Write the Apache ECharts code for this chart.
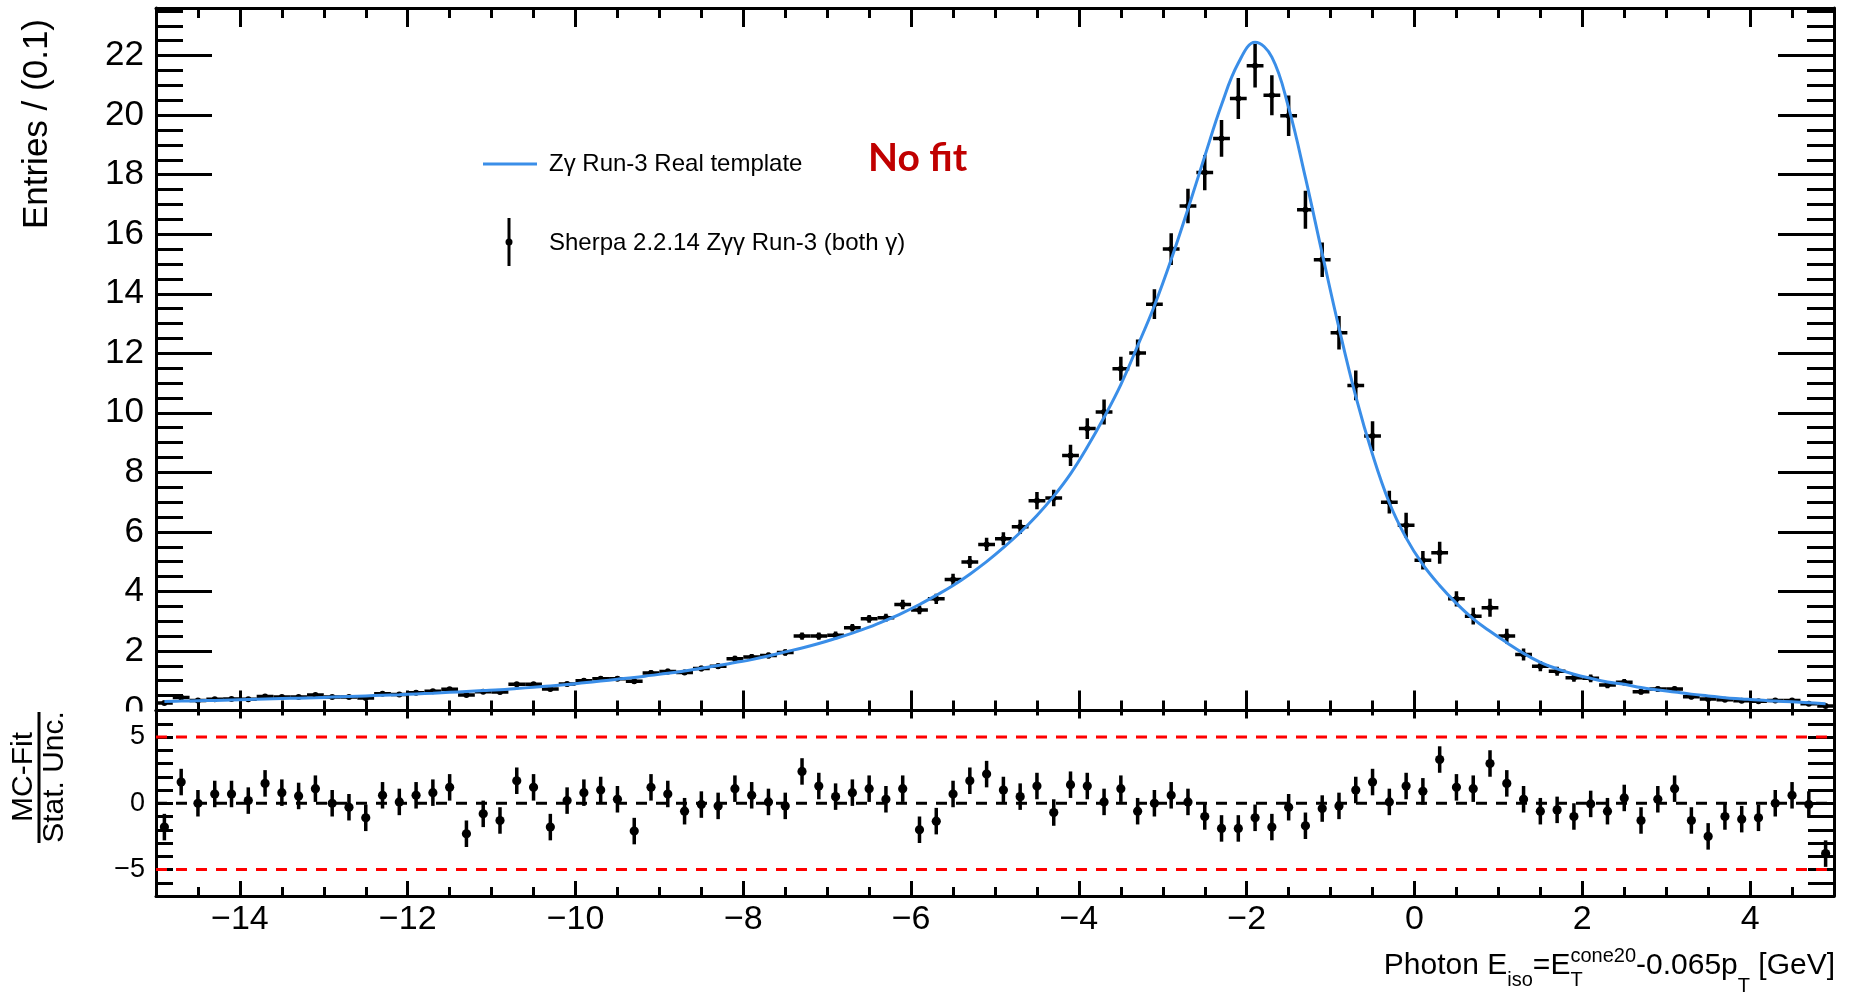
<!DOCTYPE html>
<html>
<head>
<meta charset="utf-8">
<script src="https://cdn.jsdelivr.net/npm/echarts@6/dist/echarts.min.js"></script>
<style>
  html, body { margin: 0; padding: 0; background: #fff; }
  #chart { width: 1849px; height: 995px; }
</style>
</head>
<body>
<div id="chart"></div>
<script>
// Photon isolation distribution: Sherpa MC histogram vs. real-photon template,
// with the pull (MC - template) / stat. unc. in the lower pad.

const xLow = -15;
const xHigh = 5;
const binWidth = 0.2;
const yTopMax = 23.6;
const pullMin = -7;
const pullMax = 7;

// Sherpa 2.2.14 Z gamma gamma, entries per bin (100 bins from -15 to 5)
const entries = [
  0.25, 0.44, 0.34, 0.38, 0.39, 0.38, 0.47, 0.45, 0.45, 0.52,
  0.45, 0.45, 0.42, 0.56, 0.54, 0.60, 0.65, 0.71, 0.52, 0.63,
  0.62, 0.88, 0.88, 0.72, 0.89, 1.00, 1.07, 1.07, 0.98, 1.26,
  1.31, 1.28, 1.41, 1.49, 1.74, 1.80, 1.85, 1.95, 2.50, 2.50,
  2.53, 2.78, 3.08, 3.12, 3.56, 3.38, 3.75, 4.40, 4.99, 5.58,
  5.77, 6.17, 7.05, 7.14, 8.57, 9.47, 10.03, 11.48, 12.01, 13.65,
  15.50, 16.95, 18.07, 19.22, 20.56, 21.66, 20.67, 19.98, 16.82, 15.14,
  12.69, 10.92, 9.22, 7.00, 6.22, 5.05, 5.30, 3.75, 3.17, 3.45,
  2.50, 1.88, 1.49, 1.32, 1.10, 1.08, 0.86, 0.95, 0.63, 0.72,
  0.72, 0.46, 0.39, 0.36, 0.33, 0.31, 0.34, 0.34, 0.23, 0.15
];

// statistical uncertainty of each bin
const entryErrors = [
  0.05, 0.06, 0.05, 0.05, 0.05, 0.05, 0.06, 0.06, 0.06, 0.06,
  0.06, 0.06, 0.06, 0.06, 0.06, 0.07, 0.07, 0.07, 0.07, 0.07,
  0.07, 0.08, 0.08, 0.07, 0.08, 0.08, 0.08, 0.08, 0.08, 0.09,
  0.09, 0.09, 0.09, 0.10, 0.10, 0.10, 0.10, 0.11, 0.12, 0.12,
  0.12, 0.13, 0.13, 0.13, 0.16, 0.15, 0.17, 0.19, 0.20, 0.22,
  0.22, 0.24, 0.29, 0.28, 0.36, 0.35, 0.42, 0.40, 0.45, 0.50,
  0.53, 0.58, 0.59, 0.62, 0.69, 0.73, 0.67, 0.68, 0.64, 0.58,
  0.56, 0.50, 0.50, 0.38, 0.42, 0.31, 0.37, 0.26, 0.28, 0.30,
  0.25, 0.20, 0.17, 0.15, 0.13, 0.13, 0.11, 0.11, 0.09, 0.09,
  0.09, 0.08, 0.07, 0.07, 0.07, 0.06, 0.06, 0.06, 0.05, 0.05
];

// Z gamma Run-3 real-photon template evaluated at the bin centres
const templateValues = [
  0.30, 0.315, 0.33, 0.34, 0.355, 0.37, 0.385, 0.40, 0.415, 0.43,
  0.45, 0.47, 0.49, 0.51, 0.53, 0.555, 0.58, 0.61, 0.64, 0.67,
  0.70, 0.74, 0.78, 0.82, 0.87, 0.93, 0.99, 1.05, 1.11, 1.18,
  1.25, 1.33, 1.42, 1.51, 1.61, 1.71, 1.83, 1.97, 2.10, 2.25,
  2.42, 2.60, 2.80, 3.03, 3.28, 3.56, 3.87, 4.20, 4.58, 5.00,
  5.47, 5.98, 6.55, 7.20, 7.95, 8.85, 9.85, 10.95, 12.25, 13.60,
  15.15, 16.85, 18.62, 20.35, 21.75, 22.45, 21.95, 20.25, 17.90, 15.35,
  12.85, 10.55, 8.60, 6.98, 5.80, 4.90, 4.20, 3.60, 3.08, 2.66,
  2.28, 1.92, 1.62, 1.40, 1.22, 1.08, 0.96, 0.88, 0.77, 0.69,
  0.62, 0.55, 0.49, 0.43, 0.39, 0.35, 0.32, 0.29, 0.26, 0.23
];

// (MC - template) / stat. unc. per bin
const pulls = [
  -1.8, 1.6, 0.0, 0.7, 0.7, 0.2, 1.5, 0.8, 0.55, 1.1,
  0.0, -0.3, -1.1, 0.6, 0.1, 0.6, 0.8, 1.2, -2.3, -0.8,
  -1.3, 1.7, 1.2, -1.8, 0.2, 0.8, 1.0, 0.3, -2.1, 1.2,
  0.7, -0.6, -0.1, -0.2, 1.1, 0.6, 0.1, -0.2, 2.4, 1.3,
  0.5, 0.8, 1.1, 0.3, 1.1, -2.0, -1.35, 0.7, 1.7, 2.2,
  1.0, 0.5, 1.3, -0.7, 1.4, 1.3, 0.1, 1.1, -0.6, 0.0,
  0.6, 0.1, -1.0, -1.9, -1.9, -1.1, -1.8, -0.3, -1.7, -0.4,
  -0.2, 1.0, 1.6, 0.1, 1.3, 0.9, 3.3, 1.2, 1.1, 3.0,
  1.5, 0.3, -0.6, -0.5, -1.0, -0.05, -0.6, 0.4, -1.3, 0.3,
  1.1, -1.3, -2.5, -1.0, -1.2, -1.1, 0.0, 0.6, -0.1, -3.8
];

const xMajorTicks = [-14, -12, -10, -8, -6, -4, -2, 0, 2, 4];
const pullBands = [5, -5];
const pullZero = [0];

const FONT = '"Liberation Sans", Arial, Helvetica, sans-serif';
const TEMPLATE_BLUE = '#3a8ee8';

const binCenters = entries.map((_, i) => +(xLow + binWidth * (i + 0.5)).toFixed(2));
const halfBin = binWidth / 2;

const histData = binCenters.map((x, i) => [x, entries[i], entryErrors[i]]);
const templateData = binCenters.map((x, i) => [x, templateValues[i]]);
const pullData = binCenters.map((x, i) => [x, pulls[i]]);

function minusSign(v) {
  return String(v).replace('-', '\u2212');
}

function frameAxis(gridIndex, position, min, max, tick, extra) {
  const ax = {
    type: 'value',
    gridIndex: gridIndex,
    position: position,
    min: min,
    max: max,
    axisLine: { show: true, onZero: false, lineStyle: { color: '#000', width: 3 } },
    axisTick: Object.assign({ show: true, inside: true, lineStyle: { color: '#000', width: 3 } }, tick),
    axisLabel: { show: false },
    splitLine: { show: false },
    minorTick: { show: false },
    axisPointer: { show: false }
  };
  return Object.assign(ax, extra || {});
}

const noLine = { show: false, onZero: false };

const xAxes = [
  // upper pad
  frameAxis(0, 'bottom', xLow, xHigh, { length: 10 }, { interval: 0.5 }),
  frameAxis(0, 'bottom', xLow, xHigh, { length: 20, customValues: xMajorTicks }, { interval: 0.5, axisLine: noLine }),
  frameAxis(0, 'top', xLow, xHigh, { length: 10 }, { interval: 0.5 }),
  frameAxis(0, 'top', xLow, xHigh, { length: 19, customValues: xMajorTicks }, { interval: 0.5, axisLine: noLine }),
  // lower pad
  frameAxis(1, 'bottom', xLow, xHigh, { length: 9 }, { interval: 0.5 }),
  frameAxis(1, 'bottom', xLow, xHigh, { length: 15, customValues: xMajorTicks }, {
    interval: 0.5,
    axisLine: noLine,
    axisLabel: {
      show: true, customValues: xMajorTicks, margin: 7,
      fontFamily: FONT, fontSize: 34, color: '#000',
      formatter: minusSign
    }
  }),
  frameAxis(1, 'top', xLow, xHigh, { length: 5 }, { interval: 0.5 }),
  frameAxis(1, 'top', xLow, xHigh, { length: 8, customValues: xMajorTicks }, { interval: 0.5, axisLine: noLine })
];

const yAxes = [
  // upper pad
  frameAxis(0, 'left', 0, yTopMax, { length: 27 }, { interval: 0.5 }),
  frameAxis(0, 'left', 0, yTopMax, { length: 56 }, {
    interval: 2,
    axisLine: noLine,
    axisLabel: {
      show: true, margin: 12, fontFamily: FONT, fontSize: 35, color: '#000',
      formatter: v => (Math.abs(v % 2) < 1e-9 ? String(v) : '')
    }
  }),
  frameAxis(0, 'right', 0, yTopMax, { length: 27 }, { interval: 0.5 }),
  frameAxis(0, 'right', 0, yTopMax, { length: 56 }, { interval: 2, axisLine: noLine }),
  // lower pad
  frameAxis(1, 'left', pullMin, pullMax, { length: 17 }, {
    interval: 1,
    axisLabel: {
      show: true, margin: 11, fontFamily: FONT, fontSize: 27, color: '#000',
      formatter: v => (v % 5 === 0 ? minusSign(v) : '')
    }
  }),
  frameAxis(1, 'right', pullMin, pullMax, { length: 26 }, { interval: 1 })
];

function renderCross(params, api) {
  const x = api.value(0);
  const y = api.value(1);
  const e = api.value(2);
  const c = api.coord([x, y]);
  const up = api.coord([x, y + e]);
  const dn = api.coord([x, y - e]);
  const lft = api.coord([x - halfBin, y]);
  const rgt = api.coord([x + halfBin, y]);
  const st = { stroke: '#000', lineWidth: 3.5 };
  return {
    type: 'group',
    children: [
      { type: 'line', shape: { x1: c[0], y1: up[1], x2: c[0], y2: dn[1] }, style: st },
      { type: 'line', shape: { x1: lft[0], y1: c[1], x2: rgt[0], y2: c[1] }, style: st },
      { type: 'circle', shape: { cx: c[0], cy: c[1], r: 3 }, style: { fill: '#000' } }
    ]
  };
}

function renderPull(params, api) {
  const x = api.value(0);
  const y = api.value(1);
  const c = api.coord([x, y]);
  const up = api.coord([x, y + 1]);
  const dn = api.coord([x, y - 1]);
  return {
    type: 'group',
    children: [
      { type: 'line', shape: { x1: c[0], y1: up[1], x2: c[0], y2: dn[1] }, style: { stroke: '#000', lineWidth: 3.5 } },
      { type: 'circle', shape: { cx: c[0], cy: c[1], r: 4.6 }, style: { fill: '#000' } }
    ]
  };
}

function refLine(level, color) {
  return {
    type: 'line',
    xAxisIndex: 4, yAxisIndex: 4,
    data: [[xLow, level], [xHigh, level]],
    showSymbol: false,
    silent: true,
    z: 1,
    lineStyle: { color: color, width: 3, type: [11, 9] }
  };
}

// x-axis title with sub/superscripts laid out piece by piece
const measureCtx = document.createElement('canvas').getContext('2d');
function textWidth(s, size) {
  measureCtx.font = size + 'px "Liberation Sans", Arial, sans-serif';
  return measureCtx.measureText(s).width;
}
const titleMain = 30, titleScript = 20, titleMidY = 966;
const titlePieces = [
  [{ t: 'Photon E', s: titleMain, dy: 0 }],
  [{ t: 'iso', s: titleScript, dy: 14 }],
  [{ t: '=E', s: titleMain, dy: 0 }],
  [{ t: 'cone20', s: titleScript, dy: -10 }, { t: 'T', s: titleScript, dy: 14 }],
  [{ t: '-0.065p', s: titleMain, dy: 0 }],
  [{ t: 'T', s: titleScript, dy: 20 }],
  [{ t: ' [GeV]', s: titleMain, dy: 0 }]
];
const pieceWidths = titlePieces.map(p => Math.max.apply(null, p.map(q => textWidth(q.t, q.s))));
const titleRight = 1835;
let cursor = titleRight - pieceWidths.reduce((a, b) => a + b, 0);
const titleGraphics = [];
titlePieces.forEach((p, i) => {
  p.forEach(q => {
    titleGraphics.push({
      type: 'text', x: cursor, y: titleMidY + q.dy,
      style: { text: q.t, fontFamily: FONT, fontSize: q.s, fill: '#000', align: 'left', verticalAlign: 'middle' }
    });
  });
  cursor += pieceWidths[i];
});

const chart = echarts.init(document.getElementById('chart'), null, { renderer: 'canvas' });

chart.setOption({
  animation: false,
  backgroundColor: '#fff',
  grid: [
    { left: 156, top: 8, width: 1678, height: 702.5 },
    { left: 156, top: 710.5, width: 1678, height: 185.5 }
  ],
  xAxis: xAxes,
  yAxis: yAxes,
  series: [
    {
      name: 'Sherpa 2.2.14 Z\u03b3\u03b3 Run-3 (both \u03b3)',
      type: 'custom',
      xAxisIndex: 0, yAxisIndex: 0,
      renderItem: renderCross,
      data: histData,
      clip: true,
      z: 2
    },
    {
      name: 'Z\u03b3 Run-3 Real template',
      type: 'line',
      xAxisIndex: 0, yAxisIndex: 0,
      data: templateData,
      smooth: 0.4,
      showSymbol: false,
      lineStyle: { color: TEMPLATE_BLUE, width: 3 },
      z: 3
    },
    refLine(pullZero[0], '#000'),
    refLine(pullBands[0], '#ff0000'),
    refLine(pullBands[1], '#ff0000'),
    {
      type: 'custom',
      xAxisIndex: 4, yAxisIndex: 4,
      renderItem: renderPull,
      data: pullData,
      clip: false,
      z: 3
    }
  ],
  graphic: [
    // y-axis titles
    {
      type: 'text', x: 37, y: 19, rotation: Math.PI / 2,
      style: { text: 'Entries / (0.1)', fontFamily: FONT, fontSize: 35, fill: '#000', align: 'right', verticalAlign: 'middle' }
    },
    {
      type: 'text', x: 24, y: 777, rotation: Math.PI / 2,
      style: { text: 'MC-Fit', fontFamily: FONT, fontSize: 30, fill: '#000', align: 'center', verticalAlign: 'middle' }
    },
    {
      type: 'line', shape: { x1: 39, y1: 712, x2: 39, y2: 843 },
      style: { stroke: '#000', lineWidth: 3 }
    },
    {
      type: 'text', x: 55, y: 777, rotation: Math.PI / 2,
      style: { text: 'Stat. Unc.', fontFamily: FONT, fontSize: 30, fill: '#000', align: 'center', verticalAlign: 'middle' }
    },
    // lower pad covers the bottom of the upper pad's "0" label
    {
      type: 'rect', shape: { x: 90, y: 711.5, width: 62, height: 10 },
      style: { fill: '#fff' }, z: 50
    },
    // legend
    {
      type: 'line', shape: { x1: 483, y1: 164, x2: 537, y2: 164 },
      style: { stroke: TEMPLATE_BLUE, lineWidth: 3 }
    },
    {
      type: 'text', x: 549, y: 164,
      style: { text: 'Z\u03b3 Run-3 Real template', fontFamily: FONT, fontSize: 24, fill: '#000', align: 'left', verticalAlign: 'middle' }
    },
    {
      type: 'line', shape: { x1: 509, y1: 218, x2: 509, y2: 266 },
      style: { stroke: '#000', lineWidth: 3 }
    },
    {
      type: 'circle', shape: { cx: 509, cy: 242, r: 3.5 },
      style: { fill: '#000' }
    },
    {
      type: 'text', x: 549, y: 243,
      style: { text: 'Sherpa 2.2.14 Z\u03b3\u03b3 Run-3 (both \u03b3)', fontFamily: FONT, fontSize: 24, fill: '#000', align: 'left', verticalAlign: 'middle' }
    },
    {
      type: 'text', x: 868, y: 158,
      style: { text: 'No fit', fontFamily: 'Lato, "Open Sans", sans-serif', fontWeight: 'bold', fontSize: 39, fill: '#c00000', align: 'left', verticalAlign: 'middle' }
    }
  ].concat(titleGraphics)
});
</script>
</body>
</html>
